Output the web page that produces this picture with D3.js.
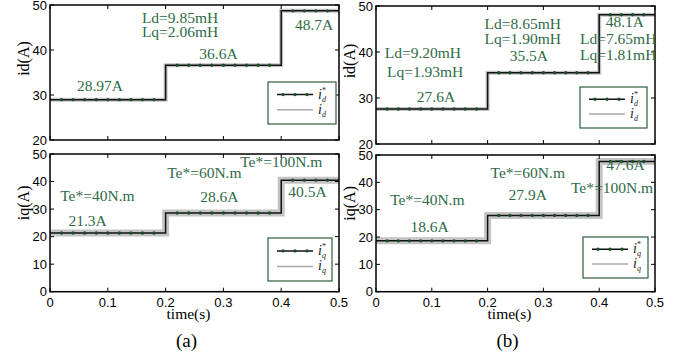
<!DOCTYPE html>
<html>
<head>
<meta charset="utf-8">
<script src="https://cdn.jsdelivr.net/npm/d3@7"></script>
<style>
  body { margin: 0; background: #fff; }
  svg { display: block; }
</style>
</head>
<body>
<div id="chart-area"></div>
<script>
let width = 678,
    height = 354;

// step times (s) and current levels
const stepTimes = [0, 0.2, 0.4, 0.5];
const idA = [28.97, 36.6, 48.7];
const iqA = [21.3, 28.6, 40.5];
const idB = [27.6, 35.5, 48.1];
const iqB = [18.6, 27.9, 47.6];

const xTicks = [0, 0.1, 0.2, 0.3, 0.4, 0.5];
const idTicks = [20, 30, 40, 50];
const iqTicks = [0, 10, 20, 30, 40, 50];

const labelsIdA = ["Ld=9.85mH", "Lq=2.06mH", "36.6A", "28.97A", "48.7A"];
const labelsIqA = ["Te*=100N.m", "Te*=60N.m", "Te*=40N.m", "28.6A", "21.3A", "40.5A"];
const labelsIdB = ["Ld=9.20mH", "Lq=1.93mH", "27.6A", "Ld=8.65mH", "Lq=1.90mH", "35.5A", "48.1A", "Ld=7.65mH", "Lq=1.81mH"];
const labelsIqB = ["47.6A", "Te*=60N.m", "27.9A", "Te*=100N.m", "Te*=40N.m", "18.6A"];

const green = "#2f6b47";
const serif = "'Liberation Serif', 'Times New Roman', serif";
const sans = "'Liberation Sans', Arial, sans-serif";

let svg = d3.select("#chart-area").append("svg")
  .attr("width", width)
  .attr("height", height);

// panel layouts
let panels = [
  { x0: 50, x1: 339, y0: 5, y1: 140, dom: [20, 50], ticks: idTicks, vals: idA, sub: "d", ylab: "id(A)",
    band: 4, xlab: false, labels: labelsIdA,
    pos: [[0.225, 46.1], [0.225, 42.9], [0.2915, 38], [0.0865, 30.9], [0.457, 44.4]],
    leg: [268, 82, 68, 42] },
  { x0: 50, x1: 339, y0: 154, y1: 291.7, dom: [0, 50], ticks: iqTicks, vals: iqA, sub: "q", ylab: "iq(A)",
    band: 7, xlab: true, labels: labelsIqA,
    pos: [[0.4, 45.3], [0.267, 41.3], [0.082, 33.0], [0.293, 32.6], [0.065, 23.9], [0.4455, 34.5]],
    leg: [268, 238, 64, 43], tag: "(a)" },
  { x0: 376, x1: 655, y0: 6, y1: 144, dom: [20, 50], ticks: idTicks, vals: idB, sub: "d", ylab: "id(A)",
    band: 4, xlab: false, labels: labelsIdB,
    pos: [[0.084, 38.7], [0.088, 34.6], [0.1075, 29.1], [0.263, 45], [0.263, 41.7], [0.274, 38],
          [0.446, 45.4], [0.434, 41.7], [0.434, 38.3]],
    leg: [580, 87, 67, 41] },
  { x0: 376, x1: 655, y0: 155, y1: 291.7, dom: [0, 50], ticks: iqTicks, vals: iqB, sub: "q", ylab: "iq(A)",
    band: 7, xlab: true, labels: labelsIqB,
    pos: [[0.447, 44.5], [0.272, 41.6], [0.272, 33.5], [0.423, 36.1], [0.092, 31.7], [0.096, 21.9]],
    leg: [583, 237, 65, 41], tag: "(b)" }
];

// marker times every 0.02 s, skipping the step instants
let markT = d3.range(1, 25).filter(k => k % 10 !== 0).map(k => k * 0.02);

function levelAt(vals, t) {
  let i = d3.bisectRight(stepTimes, t) - 1;
  return vals[Math.min(i, vals.length - 1)];
}

panels.forEach(function(p) {
  let x = d3.scaleLinear().domain([0, 0.5]).range([p.x0, p.x1]);
  let y = d3.scaleLinear().domain(p.dom).range([p.y1, p.y0]);
  let g = svg.append("g");

  let pts = stepTimes.map((t, i) => [t, p.vals[Math.min(i, p.vals.length - 1)]]);
  let line = d3.line().x(d => x(d[0])).y(d => y(d[1])).curve(d3.curveStepAfter);

  // measured current (noisy band)
  g.append("path")
    .attr("d", line(pts))
    .attr("fill", "none")
    .attr("stroke", "#c4c4c4")
    .attr("stroke-width", p.band);

  // reference
  g.append("path")
    .attr("d", line(pts))
    .attr("fill", "none")
    .attr("stroke", "#111")
    .attr("stroke-width", 1.5);

  g.selectAll(".mk")
    .data(markT)
    .enter().append("circle")
    .attr("cx", d => x(d))
    .attr("cy", d => y(levelAt(p.vals, d)))
    .attr("r", 1.7)
    .attr("fill", "#1d4a2c");

  // frame
  g.append("rect")
    .attr("x", p.x0).attr("y", p.y0)
    .attr("width", p.x1 - p.x0).attr("height", p.y1 - p.y0)
    .attr("fill", "none").attr("stroke", "#000").attr("stroke-width", 1.5);

  // inward ticks
  xTicks.forEach(function(t) {
    g.append("line").attr("x1", x(t)).attr("x2", x(t)).attr("y1", p.y1).attr("y2", p.y1 - 4)
      .attr("stroke", "#000");
    g.append("line").attr("x1", x(t)).attr("x2", x(t)).attr("y1", p.y0).attr("y2", p.y0 + 4)
      .attr("stroke", "#000");
  });
  p.ticks.forEach(function(v) {
    g.append("line").attr("x1", p.x0).attr("x2", p.x0 + 4).attr("y1", y(v)).attr("y2", y(v))
      .attr("stroke", "#000");
    g.append("line").attr("x1", p.x1).attr("x2", p.x1 - 4).attr("y1", y(v)).attr("y2", y(v))
      .attr("stroke", "#000");
    g.append("text")
      .attr("x", p.x0 - 3).attr("y", y(v) + 4.5)
      .attr("text-anchor", "end")
      .attr("font-family", sans).attr("font-size", 13)
      .text(v);
  });

  if (p.xlab) {
    xTicks.forEach(function(t) {
      g.append("text")
        .attr("x", x(t)).attr("y", p.y1 + 15)
        .attr("text-anchor", "middle")
        .attr("font-family", sans).attr("font-size", 13)
        .text(t === 0 ? "0" : t);
    });
    g.append("text")
      .attr("x", (p.x0 + p.x1) / 2 - 6).attr("y", p.y1 + 27)
      .attr("text-anchor", "middle")
      .attr("font-family", serif).attr("font-size", 15.5)
      .text("time(s)");
    g.append("text")
      .attr("x", (p.x0 + p.x1) / 2 - 8).attr("y", p.y1 + 55)
      .attr("text-anchor", "middle")
      .attr("font-family", serif).attr("font-size", 19)
      .text(p.tag);
  }

  // y label
  let yc = p.dom[0] === 20 ? (p.y0 + p.y1) / 2 - 14 : (p.y0 + p.y1) / 2 - 20;
  g.append("text")
    .attr("transform", "translate(" + (p.x0 - 21) + "," + yc + ") rotate(-90)")
    .attr("text-anchor", "middle")
    .attr("font-family", serif).attr("font-size", 16)
    .text(p.ylab);

  // annotations
  p.labels.forEach(function(s, i) {
    g.append("text")
      .attr("x", x(p.pos[i][0])).attr("y", y(p.pos[i][1]))
      .attr("text-anchor", "middle")
      .attr("font-family", serif).attr("font-size", 15.5)
      .attr("fill", green)
      .text(s);
  });

  // legend
  let [lx, ly, lw, lh] = p.leg;
  g.append("rect")
    .attr("x", lx).attr("y", ly).attr("width", lw).attr("height", lh)
    .attr("fill", "#fff").attr("stroke", "#2e5e3e").attr("stroke-width", 1.2);
  let r1 = ly + lh * 0.3, r2 = ly + lh * 0.66;
  g.append("line").attr("x1", lx + 9).attr("x2", lx + 45).attr("y1", r1).attr("y2", r1)
    .attr("stroke", "#111").attr("stroke-width", 1.5);
  [lx + 15, lx + 27, lx + 39].forEach(function(cx) {
    g.append("circle").attr("cx", cx).attr("cy", r1).attr("r", 1.7).attr("fill", "#1d4a2c");
  });
  g.append("line").attr("x1", lx + 9).attr("x2", lx + 45).attr("y1", r2).attr("y2", r2)
    .attr("stroke", "#aaa").attr("stroke-width", 1.5);
  [[r1, true], [r2, false]].forEach(function(r) {
    let tx = lx + 50;
    g.append("text").attr("x", tx).attr("y", r[0] + 4)
      .attr("font-family", serif).attr("font-style", "italic").attr("font-size", 14)
      .attr("fill", "#222").text("i");
    g.append("text").attr("x", tx + 4).attr("y", r[0] + 7)
      .attr("font-family", serif).attr("font-style", "italic").attr("font-size", 8)
      .attr("fill", "#222").text(p.sub);
    if (r[1]) {
      g.append("text").attr("x", tx + 4).attr("y", r[0] - 2)
        .attr("font-family", serif).attr("font-size", 8)
        .attr("fill", "#222").text("*");
    }
  });
});
</script>
</body>
</html>
